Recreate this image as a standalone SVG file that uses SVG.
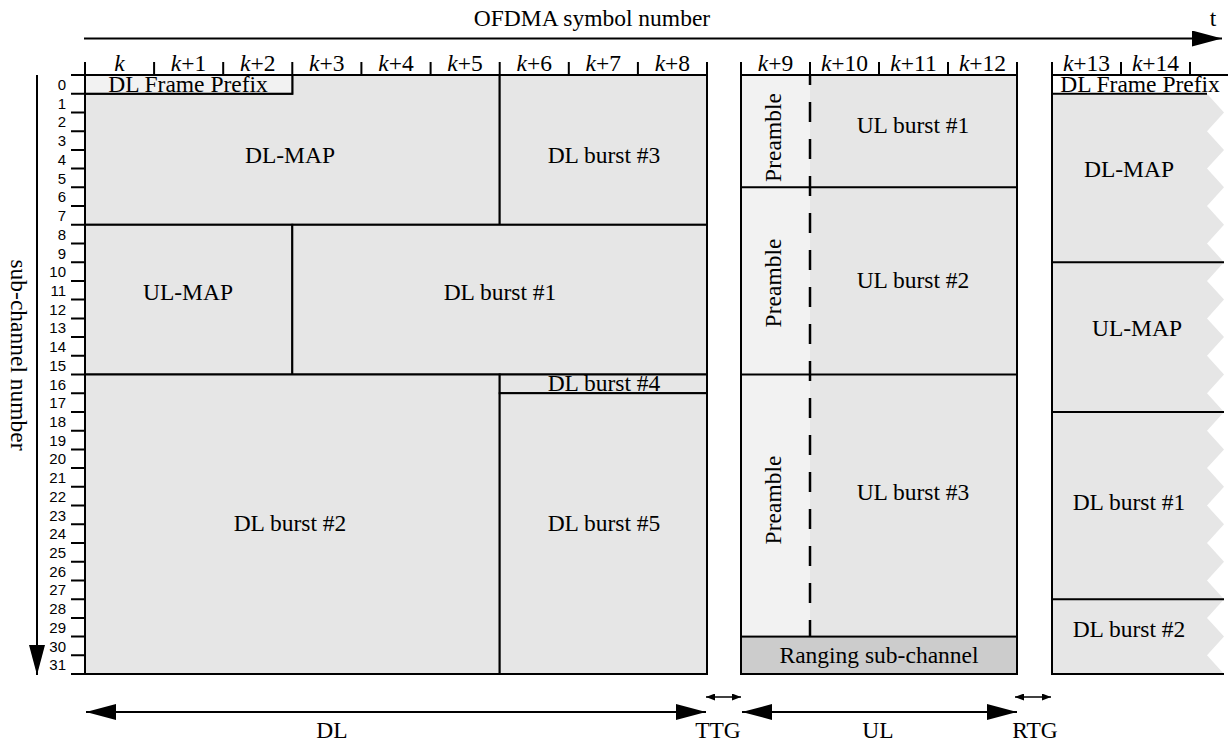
<svg xmlns="http://www.w3.org/2000/svg" width="1228" height="741" viewBox="0 0 1228 741">
<defs>
<style>
.t{font-family:"Liberation Serif","Times New Roman",serif;font-size:23.5px;fill:#000;text-anchor:middle}
.n{font-family:"Liberation Sans",Arial,sans-serif;font-size:15px;fill:#000;text-anchor:end}
.b{fill:#e6e6e6;stroke:#000;stroke-width:2}
.l{fill:#f2f2f2;stroke:#000;stroke-width:2}
.fb{fill:#e6e6e6;stroke:none}
.fl{fill:#f2f2f2;stroke:none}
.r{fill:#cccccc;stroke:#000;stroke-width:2}
.ln{stroke:#000;stroke-width:2;fill:none}
.i{font-style:italic}
</style>
<marker id="ah" viewBox="0 0 30 16" refX="30" refY="8" markerWidth="30" markerHeight="16" markerUnits="userSpaceOnUse" orient="auto-start-reverse">
<path d="M0,0 L30,8 L0,16 Z" fill="#000"/>
</marker>
<marker id="as" viewBox="0 0 9 7" refX="9" refY="3.5" markerWidth="9" markerHeight="7" markerUnits="userSpaceOnUse" orient="auto-start-reverse">
<path d="M0,0 L9,3.5 L0,7 Z" fill="#000"/>
</marker>
</defs>
<rect width="1228" height="741" fill="#fff"/>

<g id="axes">
<line class="ln" x1="84" y1="38.5" x2="1222" y2="38.5" marker-end="url(#ah)"/>
<text class="t" x="592" y="26">OFDMA symbol number</text>
<text class="t" x="1213" y="26">t</text>
<line class="ln" x1="37" y1="75" x2="37" y2="675" marker-end="url(#ah)"/>
<text class="t" transform="translate(11,355) rotate(90)" x="0" y="0">sub-channel number</text>
</g>

<g id="header-ticks">
<path class="ln" d="M71,75 H707 M1052,75 H1228
M85,62 V75 M154.1,62 V75 M223.2,62 V75 M292.3,62 V75 M361.4,62 V75 M430.6,62 V75 M499.7,62 V75 M568.8,62 V75 M637.9,62 V75 M707,62 V75
M741,62 V75 M810,62 V75 M879,62 V75 M948,62 V75 M1017,62 V75
M1052,62 V75 M1121,62 V75 M1190,62 V75"/>
</g>
<g id="col-labels">
<text class="t" x="119.5" y="71"><tspan class="i">k</tspan></text>
<text class="t" x="188.6" y="71"><tspan class="i">k</tspan>+1</text>
<text class="t" x="257.7" y="71"><tspan class="i">k</tspan>+2</text>
<text class="t" x="326.8" y="71"><tspan class="i">k</tspan>+3</text>
<text class="t" x="396" y="71"><tspan class="i">k</tspan>+4</text>
<text class="t" x="465.1" y="71"><tspan class="i">k</tspan>+5</text>
<text class="t" x="534.2" y="71"><tspan class="i">k</tspan>+6</text>
<text class="t" x="603.3" y="71"><tspan class="i">k</tspan>+7</text>
<text class="t" x="672.4" y="71"><tspan class="i">k</tspan>+8</text>
<text class="t" x="775.5" y="71"><tspan class="i">k</tspan>+9</text>
<text class="t" x="844.5" y="71"><tspan class="i">k</tspan>+10</text>
<text class="t" x="913.5" y="71"><tspan class="i">k</tspan>+11</text>
<text class="t" x="982.5" y="71"><tspan class="i">k</tspan>+12</text>
<text class="t" x="1086.5" y="71"><tspan class="i">k</tspan>+13</text>
<text class="t" x="1155.5" y="71"><tspan class="i">k</tspan>+14</text>
</g>

<g id="row-ticks">
<path class="ln" d="M71,93.7H85 M71,112.4H85 M71,131.2H85 M71,149.9H85 M71,168.6H85 M71,187.3H85 M71,206H85 M71,224.8H85 M71,243.5H85 M71,262.2H85 M71,280.9H85 M71,299.6H85 M71,318.4H85 M71,337.1H85 M71,355.8H85 M71,374.5H85 M71,393.2H85 M71,412H85 M71,430.7H85 M71,449.4H85 M71,468.1H85 M71,486.8H85 M71,505.6H85 M71,524.3H85 M71,543H85 M71,561.7H85 M71,580.4H85 M71,599.2H85 M71,617.9H85 M71,636.6H85 M71,655.3H85 M71,674H85"/>
<text class="n" x="66" y="90">0</text>
<text class="n" x="66" y="108.7">1</text>
<text class="n" x="66" y="127.4">2</text>
<text class="n" x="66" y="146.1">3</text>
<text class="n" x="66" y="164.9">4</text>
<text class="n" x="66" y="183.6">5</text>
<text class="n" x="66" y="202.3">6</text>
<text class="n" x="66" y="221">7</text>
<text class="n" x="66" y="239.7">8</text>
<text class="n" x="66" y="258.5">9</text>
<text class="n" x="66" y="277.2">10</text>
<text class="n" x="66" y="295.9">11</text>
<text class="n" x="66" y="314.6">12</text>
<text class="n" x="66" y="333.3">13</text>
<text class="n" x="66" y="352.1">14</text>
<text class="n" x="66" y="370.8">15</text>
<text class="n" x="66" y="389.5">16</text>
<text class="n" x="66" y="408.2">17</text>
<text class="n" x="66" y="426.9">18</text>
<text class="n" x="66" y="445.7">19</text>
<text class="n" x="66" y="464.4">20</text>
<text class="n" x="66" y="483.1">21</text>
<text class="n" x="66" y="501.8">22</text>
<text class="n" x="66" y="520.5">23</text>
<text class="n" x="66" y="539.3">24</text>
<text class="n" x="66" y="558">25</text>
<text class="n" x="66" y="576.7">26</text>
<text class="n" x="66" y="595.4">27</text>
<text class="n" x="66" y="614.1">28</text>
<text class="n" x="66" y="632.9">29</text>
<text class="n" x="66" y="651.6">30</text>
<text class="n" x="66" y="670.3">31</text>
</g>

<g id="dl-map"><path class="b" d="M85,93.7 H292.3 V75 H499.7 V224.8 H85 Z"/><text class="t" x="290" y="163">DL-MAP</text></g>
<g id="dl-frame-prefix"><rect class="l" x="85" y="75" width="207.3" height="18.7"/><text class="t" x="188" y="92">DL Frame Prefix</text></g>
<g id="dl-burst-3"><rect class="b" x="499.7" y="75" width="207.3" height="149.8"/><text class="t" x="604" y="163">DL burst #3</text></g>
<g id="ul-map"><rect class="b" x="85" y="224.8" width="207.3" height="149.7"/><text class="t" x="188" y="300">UL-MAP</text></g>
<g id="dl-burst-1"><rect class="b" x="292.3" y="224.8" width="414.7" height="149.7"/><text class="t" x="500" y="300">DL burst #1</text></g>
<g id="dl-burst-2"><rect class="b" x="85" y="374.5" width="414.7" height="299.5"/><text class="t" x="290" y="531">DL burst #2</text></g>
<g id="dl-burst-4"><rect class="b" x="499.7" y="374.5" width="207.3" height="18.7"/><text class="t" x="604" y="391">DL burst #4</text></g>
<g id="dl-burst-5"><rect class="b" x="499.7" y="393.2" width="207.3" height="280.8"/><text class="t" x="604" y="531">DL burst #5</text></g>

<g id="ul-burst-1"><rect class="fl" x="741" y="75" width="69" height="112.3"/><rect class="fb" x="810" y="75" width="207" height="112.3"/><text class="t" transform="translate(781,137.5) rotate(-90)">Preamble</text><text class="t" x="913" y="133">UL burst #1</text></g>
<g id="ul-burst-2"><rect class="fl" x="741" y="187.3" width="69" height="187.2"/><rect class="fb" x="810" y="187.3" width="207" height="187.2"/><text class="t" transform="translate(781,283) rotate(-90)">Preamble</text><text class="t" x="913" y="288">UL burst #2</text></g>
<g id="ul-burst-3"><rect class="fl" x="741" y="374.5" width="69" height="262.1"/><rect class="fb" x="810" y="374.5" width="207" height="262.1"/><text class="t" transform="translate(781,500) rotate(-90)">Preamble</text><text class="t" x="913" y="500">UL burst #3</text></g>
<g id="ranging"><rect class="r" x="741" y="636.6" width="276" height="37.4"/><text class="t" x="879" y="663">Ranging sub-channel</text></g>
<g id="ul-frame"><rect x="741" y="75" width="276" height="599" fill="none" stroke="#000" stroke-width="2"/><path d="M741,374.5 H1017 M741,187.3 H1017" class="ln"/>
<line x1="810" y1="75" x2="810" y2="636.6" stroke="#000" stroke-width="2.5" stroke-dasharray="20 17" stroke-dashoffset="10"/></g>

<g id="next-frame">
<path fill="#e6e6e6" d="M1052,93.7 H1207 L1224,112.4 L1207,131.2 L1224,149.9 L1207,168.6 L1224,187.3 L1207,206 L1224,224.8 L1207,243.5 L1224,262.2 L1207,280.9 L1224,299.6 L1207,318.4 L1224,337.1 L1207,355.8 L1224,374.5 L1207,393.2 L1224,412 L1207,430.7 L1224,449.4 L1207,468.1 L1224,486.8 L1207,505.6 L1224,524.3 L1207,543 L1224,561.7 L1207,580.4 L1224,599.2 L1207,617.9 L1224,636.6 L1207,655.3 L1224,674 H1052 Z"/>
<path class="ln" d="M1052,75 V674 H1224 M1052,93.7 H1207 M1052,262.2 H1224 M1052,412 H1224 M1052,599.2 H1224"/>
</g>
<g id="nf-frame-prefix"><text class="t" x="1140" y="92">DL Frame Prefix</text></g>
<g id="nf-dl-map"><text class="t" x="1129" y="177">DL-MAP</text></g>
<g id="nf-ul-map"><text class="t" x="1137" y="336">UL-MAP</text></g>
<g id="nf-dl-burst-1"><text class="t" x="1129" y="510">DL burst #1</text></g>
<g id="nf-dl-burst-2"><text class="t" x="1129" y="637">DL burst #2</text></g>

<g id="connectors">
<line class="ln" x1="86" y1="712" x2="706" y2="712" marker-start="url(#ah)" marker-end="url(#ah)"/>
<line class="ln" x1="742" y1="712" x2="1017" y2="712" marker-start="url(#ah)" marker-end="url(#ah)"/>
<line stroke="#000" stroke-width="1.5" x1="706" y1="697" x2="741" y2="697" marker-start="url(#as)" marker-end="url(#as)"/>
<line stroke="#000" stroke-width="1.5" x1="1015" y1="697" x2="1051" y2="697" marker-start="url(#as)" marker-end="url(#as)"/>
</g>
<g id="bottom-labels">
<text class="t" x="332" y="738">DL</text>
<text class="t" x="718" y="738">TTG</text>
<text class="t" x="878" y="738">UL</text>
<text class="t" x="1035" y="738">RTG</text>
</g>
</svg>
